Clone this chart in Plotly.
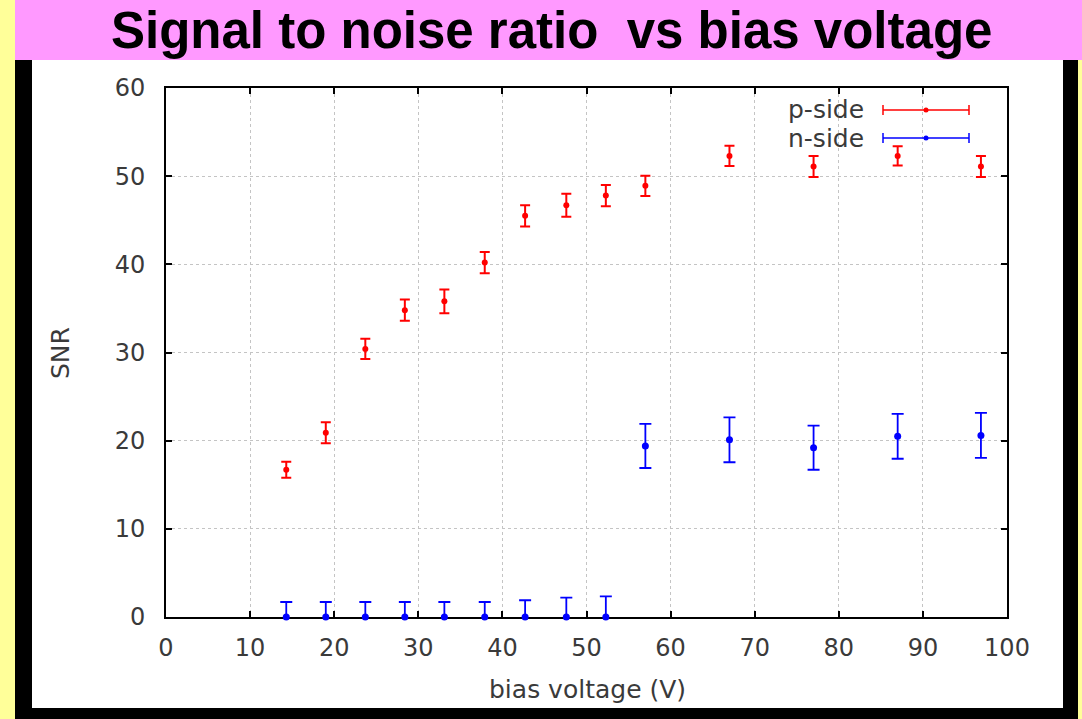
import plotly.graph_objects as go

# Bias voltage settings (V)
bias_voltage = [14.3, 19.0, 23.7, 28.4, 33.1, 37.9, 42.7, 47.6, 52.3, 57.0, 67.0, 77.0, 87.0, 96.9]

# p-side signal to noise ratio and its uncertainty
p_snr = [16.7, 20.9, 30.4, 34.8, 35.8, 40.2, 45.5, 46.7, 47.8, 48.9, 52.3, 51.1, 52.3, 51.1]
p_err = [0.9, 1.2, 1.15, 1.2, 1.35, 1.2, 1.2, 1.3, 1.2, 1.15, 1.15, 1.2, 1.1, 1.2]

# n-side signal to noise ratio and its uncertainty
n_snr = [0.0, 0.0, 0.0, 0.0, 0.0, 0.0, 0.0, 0.0, 0.0, 19.4, 20.1, 19.2, 20.5, 20.6]
n_err = [1.7, 1.7, 1.7, 1.7, 1.7, 1.7, 1.9, 2.2, 2.35, 2.5, 2.55, 2.5, 2.55, 2.55]

x_ticks = [0, 10, 20, 30, 40, 50, 60, 70, 80, 90, 100]
y_ticks = [0, 10, 20, 30, 40, 50, 60]

W, H = 1082, 719
ML, MR, MT, MB = 166, 75, 88, 102
PW, PH = W - ML - MR, H - MT - MB


def px(x):
    return (x - ML) / PW


def py(y):
    return (H - MB - y) / PH


TICK_FONT = dict(family="DejaVu Sans", size=24, color="#3a3a3a")
LABEL_FONT = dict(family="DejaVu Sans", size=25, color="#3a3a3a")

fig = go.Figure()

fig.add_trace(go.Scatter(
    x=bias_voltage, y=p_snr, mode="markers", name="p-side",
    marker=dict(color="#ff0000", size=6, symbol="circle"),
    error_y=dict(type="data", array=p_err, visible=True,
                 color="#ff0000", thickness=2, width=5),
))
fig.add_trace(go.Scatter(
    x=bias_voltage, y=n_snr, mode="markers", name="n-side",
    marker=dict(color="#0000ff", size=7, symbol="circle"),
    error_y=dict(type="data", array=n_err, visible=True,
                 color="#0000ff", thickness=1.8, width=6),
    cliponaxis=False,
))

shapes = [
    # pink title band
    dict(type="rect", xref="paper", yref="paper", layer="below",
         x0=px(15), x1=px(W), y0=py(0), y1=py(60),
         fillcolor="#ff99ff", line=dict(width=0)),
    # black frame
    dict(type="rect", xref="paper", yref="paper", layer="below",
         x0=px(15), x1=px(1078), y0=py(60), y1=py(H),
         fillcolor="#000000", line=dict(width=0)),
    # white panel
    dict(type="rect", xref="paper", yref="paper", layer="below",
         x0=px(32), x1=px(1063), y0=py(60), y1=py(708),
         fillcolor="#ffffff", line=dict(width=0)),
]

# legend samples: horizontal bar with end caps and a centre dot
legend_rows = [("p-side", "#ff0000", 110), ("n-side", "#0000ff", 138)]
annotations = []
for label, color, yy in legend_rows:
    shapes.append(dict(type="line", xref="paper", yref="paper",
                       x0=px(883), x1=px(969), y0=py(yy), y1=py(yy),
                       line=dict(color=color, width=1.5)))
    for xc in (883, 969):
        shapes.append(dict(type="line", xref="paper", yref="paper",
                           x0=px(xc), x1=px(xc), y0=py(yy - 5), y1=py(yy + 5),
                           line=dict(color=color, width=1.5)))
    shapes.append(dict(type="circle", xref="paper", yref="paper",
                       xsizemode="pixel", ysizemode="pixel",
                       xanchor=px(926), yanchor=py(yy),
                       x0=-2.5, x1=2.5, y0=-2.5, y1=2.5,
                       fillcolor=color, line=dict(width=0)))
    annotations.append(dict(text=label, xref="paper", yref="paper",
                            x=px(866), y=py(yy), xanchor="right", yanchor="middle",
                            showarrow=False, font=LABEL_FONT))

annotations += [
    dict(text="<b>Signal to noise ratio  vs bias voltage</b>", xref="paper", yref="paper",
         x=px(551), y=py(0), xanchor="center", yanchor="top", showarrow=False,
         font=dict(family="Liberation Sans", size=51, color="#000000")),
    dict(text="SNR", xref="paper", yref="paper", x=px(60), y=py(353),
         xanchor="center", yanchor="middle", textangle=-90, showarrow=False,
         font=LABEL_FONT),
    dict(text="bias voltage (V)", xref="paper", yref="paper", x=px(587), y=py(689),
         xanchor="center", yanchor="middle", showarrow=False, font=LABEL_FONT),
]

axis_common = dict(
    showline=True, linecolor="#000000", linewidth=2, mirror="ticks",
    ticks="inside", ticklen=6, tickcolor="#000000", tickwidth=1.5,
    showgrid=True, gridcolor="#c4c4c4", gridwidth=1, griddash="dot",
    zeroline=False, tickfont=TICK_FONT, layer="below traces",
)

fig.update_layout(
    width=W, height=H,
    margin=dict(l=ML, r=MR, t=MT, b=MB),
    paper_bgcolor="#ffff99", plot_bgcolor="#ffffff",
    showlegend=False,
    shapes=shapes, annotations=annotations,
    xaxis=dict(range=[0, 100], tickvals=x_ticks, ticklabelstandoff=8, **axis_common),
    yaxis=dict(range=[0, 60], tickvals=y_ticks, ticklabelstandoff=14, **axis_common),
)

fig.write_html("out.html")
